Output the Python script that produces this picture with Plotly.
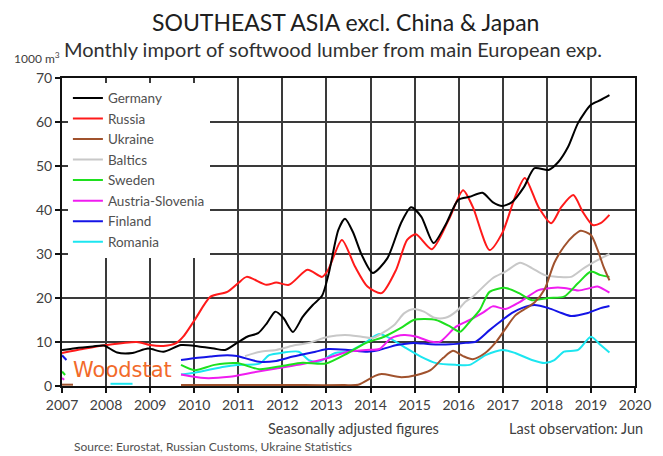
import plotly.graph_objects as go

# ---------------- data (decimal years, 1000 m3) ----------------
germany_x = [2007.0, 2007.3, 2007.7, 2007.95, 2008.25, 2008.6, 2008.95, 2009.3, 2009.7, 2010.1,
             2010.45, 2010.7, 2010.97, 2011.2, 2011.45, 2011.65, 2011.84, 2012.02, 2012.24, 2012.46,
             2012.69, 2012.9, 2013.05, 2013.27, 2013.42, 2013.6, 2013.8, 2014.05, 2014.38, 2014.69,
             2014.92, 2015.15, 2015.43, 2015.72, 2015.99, 2016.25, 2016.54, 2016.77, 2016.99, 2017.21,
             2017.48, 2017.72, 2018.04, 2018.26, 2018.48, 2018.71, 2019.0, 2019.22, 2019.42]
germany_y = [8.2, 8.6, 9.0, 9.2, 7.6, 7.5, 8.5, 7.8, 9.3, 9.0,
             8.5, 8.2, 9.8, 11.2, 12.0, 14.3, 16.9, 15.5, 12.3, 15.7,
             18.4, 20.5, 25.5, 35.5, 38.0, 35.0, 29.8, 25.7, 29.0, 37.0,
             40.6, 38.5, 32.5, 37.0, 42.3, 43.0, 43.9, 41.8, 40.9, 41.8,
             45.2, 49.5, 49.1, 50.9, 54.3, 59.8, 63.9, 65.0, 66.1]

russia_x = [2007.0, 2007.47, 2008.0, 2008.7, 2009.0, 2009.3, 2009.6, 2009.75, 2010.01, 2010.37,
            2010.75, 2011.0, 2011.19, 2011.64, 2011.86, 2012.15, 2012.57, 2012.9, 2013.04, 2013.35,
            2013.65, 2013.93, 2014.25, 2014.58, 2014.83, 2015.03, 2015.39, 2015.77, 2016.1, 2016.32,
            2016.7, 2016.99, 2017.28, 2017.5, 2017.81, 2018.1, 2018.33, 2018.6, 2018.82, 2019.04,
            2019.22, 2019.42]
russia_y = [7.5, 8.4, 9.3, 10.0, 9.3, 9.1, 9.8, 11.2, 15.0, 20.3,
            21.4, 23.4, 24.8, 23.0, 23.5, 23.0, 26.4, 24.8, 26.4, 33.2,
            27.1, 22.6, 21.1, 26.4, 33.2, 34.5, 31.1, 37.7, 44.5, 40.7,
            30.9, 34.8, 43.0, 47.3, 40.7, 37.0, 40.7, 43.4, 39.5, 36.6,
            37.0, 38.9]

ukraine_x = [2007.0, 2007.25, 2008.0, 2009.7, 2010.5, 2011.5, 2012.5, 2013.4, 2013.72, 2014.1,
             2014.25, 2014.7, 2015.05, 2015.36, 2015.65, 2015.87, 2016.1, 2016.32, 2016.6, 2016.83,
             2017.06, 2017.28, 2017.5, 2017.72, 2017.95, 2018.17, 2018.39, 2018.62, 2018.77, 2019.0,
             2019.15, 2019.29, 2019.42]
ukraine_y = [0.3, 0.3, None, 0.2, 0.2, 0.2, 0.2, 0.2, 0.3, 2.3,
             2.7, 2.0, 2.5, 3.6, 6.4, 8.0, 6.8, 6.1, 7.5, 9.8,
             13.0, 16.0, 17.5, 19.0, 22.0, 28.0, 31.7, 34.3, 35.3, 34.3,
             31.0, 27.0, 24.0]

baltics_x = [2011.15, 2011.5, 2011.86, 2012.3, 2012.6, 2013.04, 2013.42, 2013.8, 2014.05, 2014.31,
             2014.55, 2014.76, 2014.98, 2015.21, 2015.45, 2015.7, 2015.94, 2016.16, 2016.32, 2016.77,
             2017.06, 2017.39, 2017.66, 2017.95, 2018.26, 2018.55, 2018.84, 2019.15, 2019.42]
baltics_y = [6.8, 7.8, 8.2, 9.3, 9.8, 11.2, 11.6, 11.2, 10.9, 12.3,
             14.0, 16.5, 17.5, 16.9, 15.5, 15.5, 16.9, 19.2, 20.3, 24.5,
             26.0, 28.0, 26.8, 25.2, 24.8, 24.8, 26.8, 28.6, 30.0]

sweden_x = [2007.0, 2007.07, 2008.0, 2009.7, 2010.01, 2010.46, 2010.97, 2011.48, 2012.02, 2012.46,
            2012.98, 2013.49, 2013.9, 2014.31, 2014.69, 2014.98, 2015.21, 2015.49, 2015.81, 2016.03,
            2016.25, 2016.48, 2016.7, 2017.06, 2017.37, 2017.66, 2018.04, 2018.39, 2018.71, 2019.0,
            2019.22, 2019.42]
sweden_y = [3.3, 2.5, None, 4.8, 3.6, 4.8, 5.2, 3.8, 4.6, 5.3,
            5.1, 7.5, 9.8, 11.2, 13.2, 15.0, 15.2, 15.0, 13.5, 12.3,
            14.6, 17.3, 21.4, 22.3, 21.1, 19.5, 20.0, 20.3, 23.4, 26.0,
            25.2, 24.8]

austria_x = [2007.0, 2007.05, 2008.0, 2009.7, 2010.23, 2010.8, 2011.3, 2011.86, 2012.46, 2012.98,
             2013.49, 2013.9, 2014.2, 2014.47, 2014.76, 2015.05, 2015.36, 2015.58, 2015.94, 2016.25,
             2016.54, 2016.77, 2017.06, 2017.37, 2017.81, 2018.1, 2018.39, 2018.71, 2019.0, 2019.15,
             2019.42]
austria_y = [1.8, 1.4, None, 2.6, 1.8, 2.1, 3.0, 4.0, 5.0, 6.2,
             7.8, 8.2, 8.4, 10.9, 11.6, 11.2, 10.1, 10.1, 13.5, 15.0,
             16.6, 18.1, 17.5, 19.0, 21.8, 22.3, 22.3, 21.7, 22.3, 22.6,
             21.2]

finland_x = [2007.0, 2007.1, 2008.0, 2009.7, 2010.08, 2010.37, 2010.75, 2010.97, 2011.48, 2011.86,
             2012.24, 2012.75, 2013.04, 2013.49, 2013.93, 2014.2, 2014.6, 2014.98, 2015.36, 2015.81,
             2016.16, 2016.39, 2016.7, 2016.99, 2017.21, 2017.43, 2017.72, 2018.04, 2018.33, 2018.55,
             2018.93, 2019.22, 2019.42]
finland_y = [7.0, 5.9, None, 5.9, 6.4, 6.7, 7.0, 6.8, 5.5, 5.7,
             6.7, 7.8, 8.4, 8.2, 7.8, 8.2, 9.3, 9.8, 9.5, 9.5,
             9.8, 10.1, 12.7, 15.0, 16.6, 17.7, 18.4, 17.7, 16.6, 15.9,
             16.6, 17.7, 18.2]

romania_x = [2008.1, 2008.6, 2009.0, 2009.7, 2010.01, 2010.68, 2010.97, 2011.48, 2011.7, 2012.02,
             2012.37, 2012.6, 2012.82, 2013.2, 2013.49, 2013.87, 2014.2, 2014.5, 2014.76, 2015.14,
             2015.49, 2015.94, 2016.25, 2016.61, 2016.99, 2017.28, 2017.66, 2017.95, 2018.17, 2018.39,
             2018.71, 2019.0, 2019.22, 2019.42]
romania_y = [0.5, 0.5, None, 2.6, 3.0, 4.4, 4.8, 5.1, 7.0, 7.6,
             7.8, 5.9, 5.5, 7.5, 7.8, 9.8, 11.8, 10.5, 8.9, 6.7,
             5.2, 4.8, 4.8, 7.0, 8.2, 7.5, 5.9, 5.2, 5.9, 7.8,
             8.2, 11.2, 9.3, 7.6]

series_names = ["Germany", "Russia", "Ukraine", "Baltics", "Sweden",
                "Austria-Slovenia", "Finland", "Romania"]
series_x = [germany_x, russia_x, ukraine_x, baltics_x, sweden_x, austria_x, finland_x, romania_x]
series_y = [germany_y, russia_y, ukraine_y, baltics_y, sweden_y, austria_y, finland_y, romania_y]
series_colors = ["#000000", "#FF1A1A", "#A0522D", "#C8C8C8", "#1EE01E",
                 "#F01CF0", "#1414E6", "#1CE6F0"]

year_ticks = list(range(2007, 2021))
value_ticks = list(range(0, 80, 10))

FONT = "Lato"

# ---------------- figure ----------------
fig = go.Figure()

# draw in reverse so Germany ends on top, legend order kept via legendrank
for i in reversed(range(len(series_names))):
    fig.add_trace(go.Scatter(
        x=series_x[i], y=series_y[i], name=series_names[i], mode="lines",
        line=dict(color=series_colors[i], width=2, shape="spline", smoothing=0.7),
        connectgaps=False, legendrank=i + 1,
    ))

fig.update_layout(
    width=663, height=456,
    margin=dict(l=62, r=18, t=78, b=70),
    paper_bgcolor="white", plot_bgcolor="white",
    font=dict(family=FONT, size=14, color="#404040"),
    showlegend=True,
    legend=dict(x=0.0103, y=0.985, xanchor="left", yanchor="top",
                bgcolor="white", borderwidth=0,
                font=dict(family=FONT, size=13.5, color="#505050"),
                tracegroupgap=0, itemwidth=30),
    xaxis=dict(range=[2007, 2020], tickmode="array", tickvals=year_ticks,
               ticktext=[str(t) for t in year_ticks],
               showgrid=True, gridcolor="#3a3a3a", gridwidth=1.5,
               showline=True, linecolor="#111111", linewidth=2, mirror=True,
               ticks="outside", ticklen=5, tickcolor="#111111", tickwidth=1.5,
               tickfont=dict(family=FONT, size=14, color="#404040"), zeroline=False),
    yaxis=dict(range=[0, 70], tickmode="array", tickvals=value_ticks,
               showgrid=True, gridcolor="#3a3a3a", gridwidth=1.5,
               showline=True, linecolor="#111111", linewidth=2, mirror=True,
               ticks="outside", ticklen=5, tickcolor="#111111", tickwidth=1.5,
               tickfont=dict(family=FONT, size=14, color="#404040"), zeroline=False),
)

ann = [
    dict(text="SOUTHEAST ASIA excl. China & Japan", x=0.495, y=1.182, font=dict(size=23, color="#202020")),
    dict(text="Monthly import of softwood lumber from main European exp.", x=0.473, y=1.094,
         font=dict(size=20, color="#303030")),
    dict(text="1000 m<sup>3</sup>", x=0.0, y=1.066, xanchor="right", font=dict(size=12, color="#404040")),
    dict(text="Seasonally adjusted figures", x=0.509, y=-0.137, font=dict(size=14.5, color="#404040")),
    dict(text="Last observation: Jun", x=1.017, y=-0.137, xanchor="right", font=dict(size=14.5, color="#404040")),
    dict(text="Source: Eurostat, Russian Customs, Ukraine Statistics", x=0.017, y=-0.198,
         xanchor="left", font=dict(size=12, color="#505050")),
    dict(text="Woodstat", x=0.105, y=0.052, font=dict(size=21, color="#F26A2A", family="DejaVu Sans")),
]
for a in ann:
    a.setdefault("xanchor", "center")
    fig.add_annotation(xref="paper", yref="paper", showarrow=False, yanchor="middle", **a)

fig.write_html("out.html", config={"displayModeBar": False},
               post_script="document.body.style.margin='0px';")
